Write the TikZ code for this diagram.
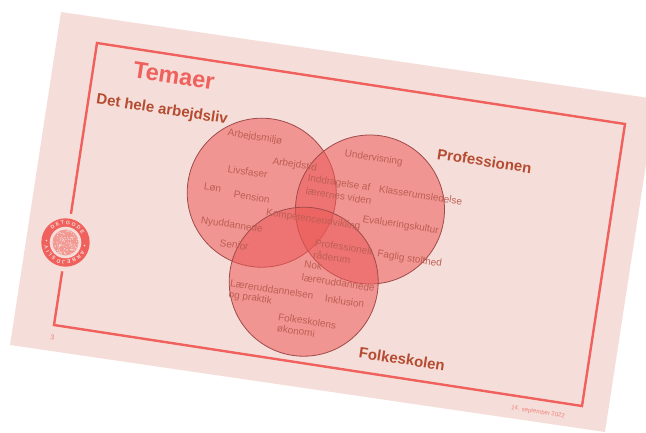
\documentclass[tikz,border=0pt]{standalone}
\usepackage{fontspec}
\setmainfont{Liberation Sans}
\usetikzlibrary{decorations.text,calc}
\definecolor{slidebg}{HTML}{F5DED9}
\definecolor{framered}{HTML}{F0605C}
\definecolor{headbrown}{HTML}{B54B30}
\definecolor{labelred}{HTML}{BE5E54}
\definecolor{ringdark}{HTML}{A04A4A}
\definecolor{vennfill}{HTML}{EC5A58}
\tikzset{
  x=1pt,y=-1pt,
  venn/.style={circle,minimum size=149pt,inner sep=0pt,draw=ringdark,line width=0.8pt,fill=vennfill,fill opacity=0.55},
  lab/.style={font=\fontsize{10}{12}\selectfont,text=labelred,rotate=-8.7,inner sep=0pt},
  head/.style={font=\bfseries\fontsize{15}{17}\selectfont,text=headbrown,rotate=-8.7,inner sep=0pt},
  framel/.style={draw=framered,line width=2.4pt,line join=miter}
}
\begin{document}
\begin{tikzpicture}
\useasboundingbox (0,0) rectangle (646,432);
\clip (0,0) rectangle (646,432);
\fill[slidebg] (61,12) -- (656,99) -- (605,432) -- (10,345) -- cycle;
\draw[framel] (97,43) -- (625,124) -- (582,406) -- (54,325) -- cycle;
% logo
\fill[slidebg] (65.5,242.5) circle (29);
\fill[framered] (65.5,242.5) circle (24.2);
\fill[slidebg] (65.5,242.5) circle (15.8);
\fill[framered!55!slidebg] (65.5,242.5) circle (13);
\pgfmathsetseed{7}
\foreach \i in {1,...,90}{
  \pgfmathsetmacro{\aa}{rnd*360}
  \pgfmathsetmacro{\rr}{12.5*sqrt(rnd)}
  \fill[slidebg] ($(65.5,242.5)+(\aa:\rr)$) circle (0.6);
}
\path[rotate around={-8.7:(65.5,242.5)},decorate,decoration={text along path,text align=center,
  text={|\fontsize{5.2}{6}\selectfont\bfseries\color{slidebg}|D E T   G O D E}}]
  (47.5,242.5) arc[start angle=180,end angle=360,radius=18];
\path[rotate around={-8.7:(65.5,242.5)},decorate,decoration={text along path,text align=center,
  text={|\fontsize{5.2}{6}\selectfont\bfseries\color{slidebg}|A R B E J D S L I V}}]
  (83.5,242.5) arc[start angle=0,end angle=180,radius=18];
\fill[slidebg] (46.5,240.5) circle (0.9);
\fill[slidebg] (84.5,245.5) circle (0.9);
% title
\node[font=\bfseries\fontsize{23.5}{26}\selectfont,text=framered,rotate=-8.7,inner sep=0pt] (title) at (174,75.5) {Temaer};
\node[head] (arbejdsliv) at (162,110) {Det hele arbejdsliv};
\node[head] (professionen) at (484.5,161) {Professionen};
\node[head] (folkeskolen) at (402,359) {Folkeskolen};
% circles
\node[venn] (c1) at (261.7,192.7) {};
\node[venn] (c2) at (370,209.5) {};
\node[venn] (c3) at (303.7,281.7) {};
% labels
\node[lab] (a1) at (255,137.3) {Arbejdsmiljø};
\node[lab] (a2) at (294.7,165) {Arbejdstid};
\node[lab] (a3) at (247.7,171.7) {Livsfaser};
\node[lab] (a4) at (212.7,187.7) {Løn};
\node[lab] (a5) at (251.7,197) {Pension};
\node[lab] (a6) at (231.7,225.3) {Nyuddannede};
\node[lab] (a7) at (234.3,244.7) {Senior};
\node[lab] (a8) at (313.3,220) {Kompetenceudvikling};
\node[lab] (b1) at (373.7,158.3) {Undervisning};
\node[lab] (b2) at (339,183.3) {Inddragelse af};
\node[lab] (b2b) at (338.7,196) {lærernes viden};
\node[lab] (b3) at (420.7,195) {Klasserumsledelse};
\node[lab] (b4) at (400.7,225.3) {Evalueringskultur};
\node[lab] (b5) at (343.7,247) {Professionelt};
\node[lab] (b5b) at (332,257) {råderum};
\node[lab] (b6) at (409.7,259.3) {Faglig stolthed};
\node[lab] (d1) at (313.3,265.7) {Nok};
\node[lab] (d1b) at (338.3,282.7) {læreruddannede};
\node[lab] (d2) at (272,289.3) {Læreruddannelsen};
\node[lab] (d2b) at (250.3,298) {og praktik};
\node[lab] (d3) at (344.7,301.3) {Inklusion};
\node[lab] (d4) at (307.3,321) {Folkeskolens};
\node[lab] (d4b) at (296,331) {økonomi};
% footer
\node[lab,font=\fontsize{7}{8}\selectfont,text=framered!75!slidebg] (pg) at (52.5,337) {3};
\node[lab,font=\fontsize{6}{7}\selectfont,text=framered!75!slidebg] (date) at (538,412) {14. september 2022};
\end{tikzpicture}
\end{document}
